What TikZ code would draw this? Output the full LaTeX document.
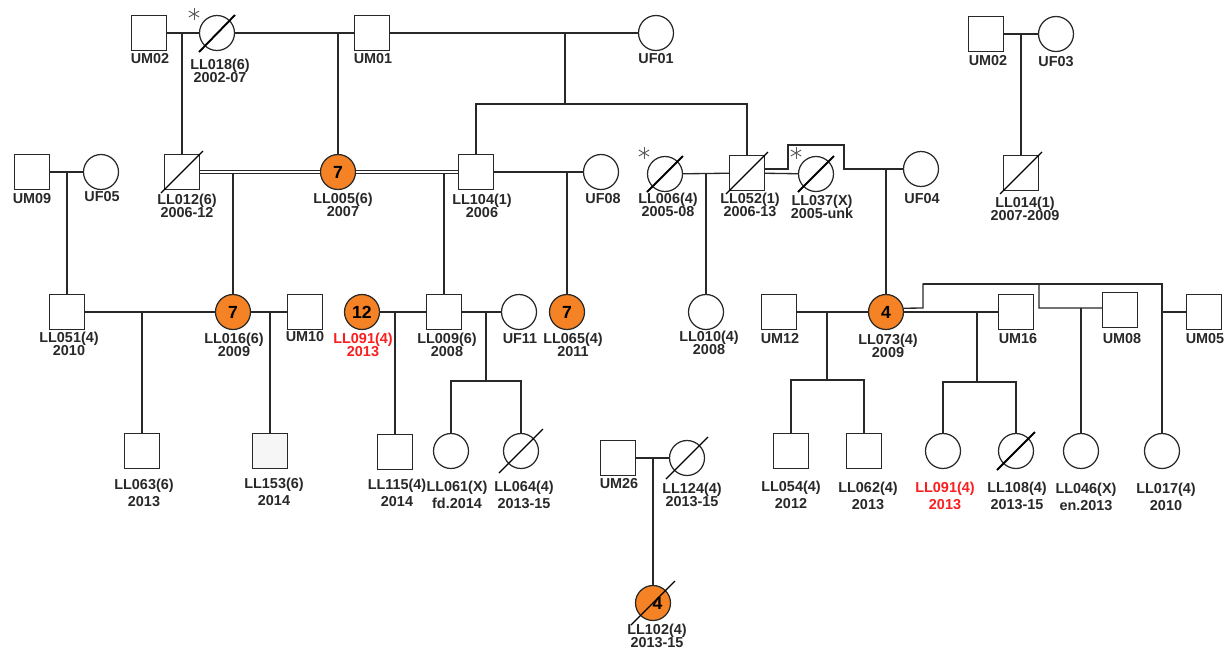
\documentclass[tikz,border=0pt]{standalone}
\usepackage{fontspec}
\setmainfont{Liberation Sans}
\usetikzlibrary{calc}
\definecolor{aff}{RGB}{245,130,36}
\definecolor{ink}{RGB}{40,40,40}
\definecolor{redtxt}{RGB}{250,30,30}
\newcommand\lblfont{\fontsize{8.2}{7.4}\selectfont\bfseries\lineskiplimit=-9pt\relax}
\begin{document}
\begin{tikzpicture}[x=0.02cm,y=-0.02cm,
  male/.style={rectangle, draw=ink, line width=0.7pt, minimum size=0.7cm, inner sep=0pt, fill=white},
  female/.style={circle, draw=ink, line width=0.7pt, minimum size=0.7cm, inner sep=0pt, fill=white},
  affected/.style={fill=aff, font=\fontsize{10}{12}\selectfont\bfseries},
  lbl/.style={font=\lblfont, text=ink, align=center, inner sep=0pt, anchor=north},
  redlbl/.style={lbl, text=redtxt},
  rel/.style={draw=ink, line width=0.75pt},
  cons/.style={draw=ink, line width=0.6pt, double=white, double distance=1.3pt},
  slashc/.style={draw=black, line width=1.1pt},
  slashs/.style={draw=black, line width=0.7pt},
  starline/.style={draw=gray!70!black, line width=0.5pt}
]
\fill[white] (0,0) rectangle (1225,650);
\useasboundingbox (0,0) rectangle (1225,650);

% ---------- individuals ----------
% generation I
\node[male] (UM02a) at (149,33) {};
\node[female] (LL018) at (217,33) {};
\node[male] (UM01) at (372,33) {};
\node[female] (UF01) at (656,33) {};
\node[male] (UM02b) at (986,34) {};
\node[female] (UF03) at (1056,34) {};
% generation II
\node[male] (UM09) at (32,172) {};
\node[female] (UF05) at (101,172) {};
\node[male] (LL012) at (182,172) {};
\node[female,affected] (LL005) at (338,172) {7};
\node[male] (LL104) at (476,172) {};
\node[female] (UF08) at (601,172) {};
\node[female] (LL006) at (665,174) {};
\node[male] (LL052) at (747,173) {};
\node[female] (LL037) at (816,174) {};
\node[female] (UF04) at (921,169) {};
\node[male] (LL014) at (1021,173) {};
% generation III
\node[male] (LL051) at (67,312) {};
\node[female,affected] (LL016) at (233,312) {7};
\node[male] (UM10) at (305,312) {};
\node[female,affected] (LL091a) at (362,312) {12};
\node[male] (LL009) at (444,312) {};
\node[female] (UF11) at (519,312) {};
\node[female,affected] (LL065) at (567,312) {7};
\node[female] (LL010) at (706,312) {};
\node[male] (UM12) at (779,312) {};
\node[female,affected] (LL073) at (886,312) {4};
\node[male] (UM16) at (1016,312) {};
\node[male] (UM08) at (1120,310) {};
\node[male] (UM05) at (1204,312) {};
% generation IV
\node[male] (LL063) at (142,451) {};
\node[male, fill=gray!7] (LL153) at (270,451) {};
\node[male] (LL115) at (395,452) {};
\node[female] (LL061) at (451,451) {};
\node[female] (LL064) at (521,451) {};
\node[male] (UM26) at (618,458) {};
\node[female] (LL124) at (687,458) {};
\node[male] (LL054) at (791,451) {};
\node[male] (LL062) at (864,451) {};
\node[female] (LL091b) at (943,451) {};
\node[female] (LL108) at (1016,451) {};
\node[female] (LL046) at (1081,451) {};
\node[female] (LL017) at (1162,451) {};
\node[female,affected] (LL102) at (653,603) {\raisebox{-2pt}{\hspace{5pt}4}};

% ---------- junction coordinates ----------
\coordinate (m1) at (182,33);
\coordinate (m2) at (338,33);
\coordinate (m3) at (565,33);
\coordinate (s3) at (565,104);
\coordinate (m4) at (1021,34);
\coordinate (m5) at (67,172);
\coordinate (m6) at (233,172);
\coordinate (m7) at (444,172);
\coordinate (m8) at (567,172);
\coordinate (m9) at (706,174);
\coordinate (k1) at (788,169);
\coordinate (k2) at (788,145);
\coordinate (k3) at (844,145);
\coordinate (k4) at (844,169);
\coordinate (m10) at (886,169);
\coordinate (n1) at (142,312);
\coordinate (n2) at (270,312);
\coordinate (n3) at (395,312);
\coordinate (n4) at (486,312);
\coordinate (s4) at (486,381);
\coordinate (n5) at (827,312);
\coordinate (s5) at (827,380);
\coordinate (n6) at (977,312);
\coordinate (s6) at (977,382);
\coordinate (j1) at (923,308);
\coordinate (j2) at (923,284);
\coordinate (j3) at (1039,284);
\coordinate (j4) at (1039,308);
\coordinate (n7) at (1081,308);
\coordinate (j5) at (1162,284);
\coordinate (n8) at (1162,312);
\coordinate (n9) at (653,458);

% ---------- connectors ----------
\draw[rel] (UM02a) -- (LL018);
\draw[rel] (LL018) -- (UM01);
\draw[rel] (UM01) -- (UF01);
\draw[rel] (UM02b) -- (UF03);
\draw[rel] (m1) -- (LL012);
\draw[rel] (m2) -- (LL005);
\draw[rel] (m3) -- (s3);
\draw[rel] (LL104) |- (s3) -| (LL052);
\draw[rel] (m4) -- (LL014);

\draw[rel] (UM09) -- (UF05);
\draw[rel] (m5) -- (LL051);
\draw[rel] (m6) -- (LL016);
\draw[rel] (m7) -- (LL009);
\draw[cons] (LL012) -- (LL005);
\draw[cons] (LL005) -- (LL104);
\draw[rel] (LL104) -- (UF08);
\draw[rel] (m8) -- (LL065);
\draw[rel] (LL006) -- (LL052);
\draw[rel] (m9) -- (LL010);
\draw[rel] (LL052) -- (LL037);
\draw[rel] (LL052.east |- k1) -- (k1) -- (k2) -- (k3) -- (k4) -- (UF04);
\draw[rel] (m10) -- (LL073);

\draw[rel] (LL051) -- (LL016);
\draw[rel] (n1) -- (LL063);
\draw[rel] (LL016) -- (UM10);
\draw[rel] (n2) -- (LL153);
\draw[rel] (LL091a) -- (LL009);
\draw[rel] (n3) -- (LL115);
\draw[rel] (LL009) -- (UF11);
\draw[rel] (n4) -- (s4);
\draw[rel] (LL061) |- (s4) -| (LL064);
\draw[rel] (UM12) -- (LL073);
\draw[rel] (n5) -- (s5);
\draw[rel] (LL054) |- (s5) -| (LL062);
\draw[rel] (LL073) -- (UM16);
\draw[rel] (n6) -- (s6);
\draw[rel] (LL091b) |- (s6) -| (LL108);
\draw[rel] (LL073.12) -- (j1) -- (j2) -- (j3) -- (j4) -- (UM08.west |- j4);
\draw[rel] (n7) -- (LL046);
\draw[rel] (j2) -- (j5) -- (LL017);
\draw[rel] (n8) -- (UM05);
\draw[rel] (UM26) -- (LL124);
\draw[rel] (n9) -- (LL102);

% ---------- deceased slashes ----------
\draw[slashc] ([shift={(-18,19)}]LL018.center) -- ([shift={(18,-18)}]LL018.center);
\draw[slashc] ([shift={(-18,18)}]LL006.center) -- ([shift={(18,-18)}]LL006.center);
\draw[slashc] ([shift={(-18,18)}]LL037.center) -- ([shift={(18,-18)}]LL037.center);
\draw[slashs] ([shift={(-21,21)}]LL012.center) -- ([shift={(21,-21)}]LL012.center);
\draw[slashs] ([shift={(-21,21)}]LL052.center) -- ([shift={(21,-21)}]LL052.center);
\draw[slashs] ([shift={(-21,21)}]LL014.center) -- ([shift={(21,-21)}]LL014.center);
\draw[slashs] ([shift={(-22,22)}]LL064.center) -- ([shift={(22,-22)}]LL064.center);
\draw[slashs] ([shift={(-21,21)}]LL124.center) -- ([shift={(21,-21)}]LL124.center);
\draw[slashc] ([shift={(-19,19)}]LL108.center) -- ([shift={(19,-19)}]LL108.center);
\draw[slashs] ([shift={(-22,22)}]LL102.center) -- ([shift={(22,-22)}]LL102.center);

% ---------- asterisks ----------
\coordinate (a018) at (194,14);
\coordinate (a006) at (644,153);
\coordinate (a037) at (796,153);
\foreach \c in {a018,a006,a037}{
  \foreach \a in {90,30,150}{
    \draw[starline] (\c) ++(\a:6) -- ++(\a+180:12);
  }
}

% ---------- labels ----------
\node[lbl] (tUM02a) at (150,53) {UM02};
\node[lbl] (tLL018) at (220,59) {LL018(6)\\2002-07};
\node[lbl] (tUM01) at (373,53) {UM01};
\node[lbl] (tUF01) at (656,53) {UF01};
\node[lbl] (tUM02b) at (988,55) {UM02};
\node[lbl] (tUF03) at (1056,56) {UF03};

\node[lbl] (tUM09) at (32,193) {UM09};
\node[lbl] (tUF05) at (102,191) {UF05};
\node[lbl] (tLL012) at (187,194) {LL012(6)\\2006-12};
\node[lbl] (tLL005) at (343,193) {LL005(6)\\2007};
\node[lbl] (tLL104) at (482,194) {LL104(1)\\2006};
\node[lbl] (tUF08) at (603,193) {UF08};
\node[lbl] (tLL006) at (668,193) {LL006(4)\\2005-08};
\node[lbl] (tLL052) at (750,193) {LL052(1)\\2006-13};
\node[lbl] (tLL037) at (822,195) {LL037(X)\\2005-unk};
\node[lbl] (tUF04) at (922,193) {UF04};
\node[lbl] (tLL014) at (1025,197) {LL014(1)\\2007-2009};

\node[lbl] (tLL051) at (69,332) {LL051(4)\\2010};
\node[lbl] (tLL016) at (234,333) {LL016(6)\\2009};
\node[lbl] (tUM10) at (305,331) {UM10};
\node[redlbl] (tLL091a) at (363,333) {LL091(4)\\2013};
\node[lbl] (tLL009) at (447,333) {LL009(6)\\2008};
\node[lbl] (tUF11) at (520,333) {UF11};
\node[lbl] (tLL065) at (573,333) {LL065(4)\\2011};
\node[lbl] (tLL010) at (709,331) {LL010(4)\\2008};
\node[lbl] (tUM12) at (780,333) {UM12};
\node[lbl] (tLL073) at (888,334) {LL073(4)\\2009};
\node[lbl] (tUM16) at (1018,333) {UM16};
\node[lbl] (tUM08) at (1122,333) {UM08};
\node[lbl] (tUM05) at (1205,333) {UM05};

\node[lbl] (tLL063) at (144,479) {LL063(6)\\[2.2pt]2013};
\node[lbl] (tLL153) at (274,478) {LL153(6)\\[2.2pt]2014};
\node[lbl] (tLL115) at (397,479) {LL115(4)\\[2.2pt]2014};
\node[lbl] (tLL061) at (457,481) {LL061(X)\\[2.2pt]fd.2014};
\node[lbl] (tLL064) at (524,481) {LL064(4)\\[2.2pt]2013-15};
\node[lbl] (tUM26) at (619,478) {UM26};
\node[lbl] (tLL124) at (692,483) {LL124(4)\\2013-15};
\node[lbl] (tLL054) at (791,481) {LL054(4)\\[2.2pt]2012};
\node[lbl] (tLL062) at (868,482) {LL062(4)\\[2.2pt]2013};
\node[redlbl] (tLL091b) at (945,482) {LL091(4)\\[2.2pt]2013};
\node[lbl] (tLL108) at (1017,482) {LL108(4)\\[2.2pt]2013-15};
\node[lbl] (tLL046) at (1086,483) {LL046(X)\\[2.2pt]en.2013};
\node[lbl] (tLL017) at (1166,483) {LL017(4)\\[2.2pt]2010};
\node[lbl] (tLL102) at (657,624) {LL102(4)\\2013-15};
\end{tikzpicture}
\end{document}
